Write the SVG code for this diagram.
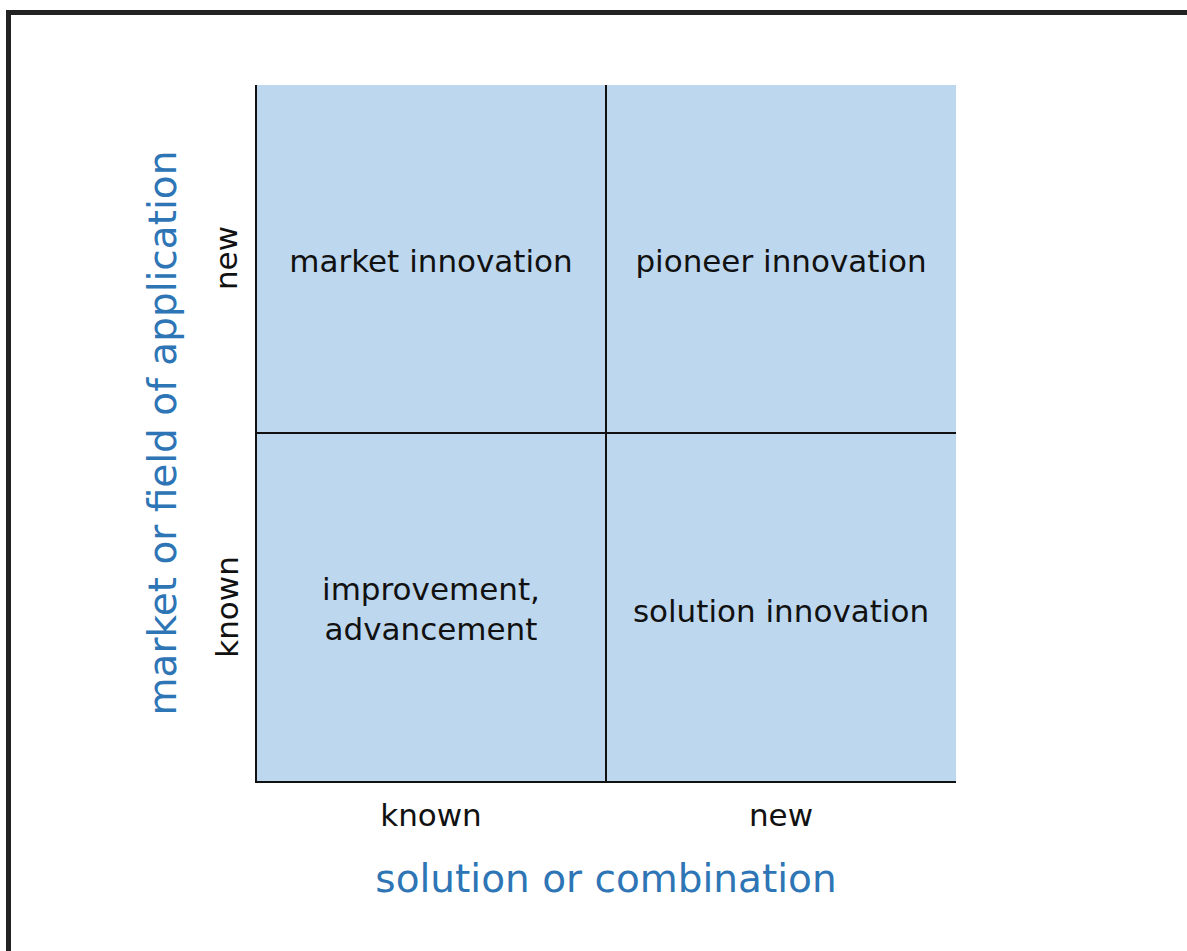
<svg xmlns="http://www.w3.org/2000/svg" width="1187" height="951" viewBox="0 0 1187 951">
  <style>
    .cell { fill: #BDD7EE; stroke: none; }
    .lbl { font-family: "DejaVu Sans", Verdana, sans-serif; font-size: 31px; fill: #111111; text-anchor: middle; }
    .axis { font-family: "DejaVu Sans", Verdana, sans-serif; font-size: 39px; fill: #2E75B6; text-anchor: middle; }
    .grid { stroke: #111111; stroke-width: 2; fill: none; }
  </style>
  <rect x="0" y="0" width="1187" height="951" fill="#ffffff"/>
  <path d="M8.5 951 V12.5 H1187" fill="none" stroke="#222222" stroke-width="5"/>

  <g id="cell-market-innovation">
    <rect class="cell" x="256" y="85" width="350" height="348"/>
    <text class="lbl" x="431" y="272">market innovation</text>
  </g>
  <g id="cell-pioneer-innovation">
    <rect class="cell" x="606" y="85" width="350" height="348"/>
    <text class="lbl" x="781" y="272">pioneer innovation</text>
  </g>
  <g id="cell-improvement">
    <rect class="cell" x="256" y="433" width="350" height="349"/>
    <text class="lbl" x="431" y="600">improvement,</text>
    <text class="lbl" x="431" y="640">advancement</text>
  </g>
  <g id="cell-solution-innovation">
    <rect class="cell" x="606" y="433" width="350" height="349"/>
    <text class="lbl" x="781" y="622">solution innovation</text>
  </g>

  <g id="connectors">
    <path class="grid" d="M256 85 V782 H956"/>
    <path class="grid" d="M606 85 V782"/>
    <path class="grid" d="M256 433 H956"/>
  </g>

  <g id="x-axis">
    <text class="lbl" x="431" y="826">known</text>
    <text class="lbl" x="781" y="826">new</text>
    <text class="axis" x="606" y="892">solution or combination</text>
  </g>
  <g id="y-axis">
    <text class="lbl" transform="translate(237 258) rotate(-90)">new</text>
    <text class="lbl" transform="translate(238 607) rotate(-90)">known</text>
    <text class="axis" transform="translate(176 433) rotate(-90)">market or field of application</text>
  </g>
</svg>
